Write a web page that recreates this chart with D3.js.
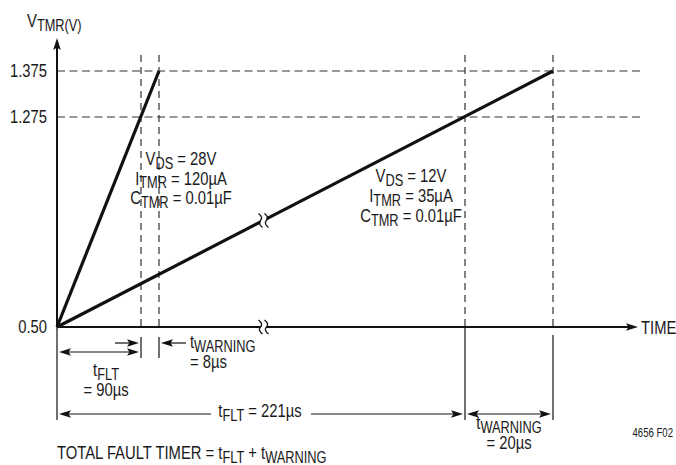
<!DOCTYPE html>
<html><head><meta charset="utf-8">
<script src="https://cdn.jsdelivr.net/npm/d3@7"></script>
<style>
body{margin:0;background:#fff}
text{font-family:"Liberation Sans",Arial,Helvetica,sans-serif;fill:#1a1a1a}
</style>
</head><body><svg id="c" width="676" height="465"></svg>
<script>
// ---- data ----
const timeMarks = [0, 90, 98, 221, 241];          // µs: start, tFLT(28V), +tWARNING, tFLT(12V), +tWARNING
const voltTicks = [0.50, 1.275, 1.375];
const voltTickLabels = ["0.50", "1.275", "1.375"];
const fastTimes = [0, 98];
const fastVolts = [0.50, 1.375];
const slowTimes = [0, 241];
const slowVolts = [0.50, 1.375];
const fastLabel = [["V","DS"," = 28V"],["I","TMR"," = 120µA"],["C","TMR"," = 0.01µF"]];
const slowLabel = [["V","DS"," = 12V"],["I","TMR"," = 35µA"],["C","TMR"," = 0.01µF"]];

// ---- scales (schematic, piecewise) ----
const x = d3.scaleLinear().domain([0, 90, 98, 221, 241, 280]).range([57, 141, 159, 465, 553, 638]);
const y = d3.scaleLinear().domain([0.5, 1.275, 1.375, 1.5]).range([327, 117, 71, 38]);
const svg = d3.select("#c");
const ink = "#111";
const x0 = x(0), y0 = y(0.5);
const SX = 0.8, FS = 18.5, SUB = 16, SDY = 3.5;

function arrowHead(g, tx, ty, dir, vertical) {
  const L = 12, W = 3.8;
  let pts;
  if (!vertical) pts = [[tx,ty],[tx - dir*L, ty - W],[tx - dir*L*0.8, ty],[tx - dir*L, ty + W]];
  else pts = [[tx,ty],[tx - W, ty - dir*L],[tx, ty - dir*L*0.8],[tx + W, ty - dir*L]];
  g.append("path").attr("d", "M" + pts.map(p => p.join(",")).join("L") + "Z").attr("fill", ink);
}
// condensed text: parts alternate normal / subscript
function richText(tx, ty, parts, anchor, size, subSize) {
  const t = svg.append("text").attr("transform", `translate(${tx},${ty}) scale(${SX},1)`)
    .attr("text-anchor", anchor || "start").attr("font-size", size || FS);
  parts.forEach((p, i) => {
    const s = t.append("tspan").text(p);
    if (i % 2 === 1) s.attr("font-size", subSize || SUB).attr("dy", SDY);
    else if (i > 0) s.attr("dy", -SDY);
  });
  return t;
}

// ---- dashed guides ----
const guides = svg.append("g").attr("stroke", "#333").attr("stroke-width", 1.2).attr("stroke-dasharray", "8,4.5").attr("fill", "none");
[1.275, 1.375].forEach(v => guides.append("line").attr("x1", x0).attr("x2", 641).attr("y1", y(v)).attr("y2", y(v)));
timeMarks.slice(1).forEach(t => guides.append("line").attr("x1", x(t)).attr("x2", x(t)).attr("y1", 55).attr("y2", y0)
  .attr("stroke-dasharray", "7,5"));

// ---- axes ----
const ax = svg.append("g");
ax.append("line").attr("x1", x0).attr("x2", x0).attr("y1", y0).attr("y2", y(1.5) + 8).attr("stroke", ink).attr("stroke-width", 2);
arrowHead(ax, x0, y(1.5), -1, true);
ax.append("line").attr("x1", x0).attr("x2", x(280) - 8).attr("y1", y0).attr("y2", y0).attr("stroke", ink).attr("stroke-width", 2);
arrowHead(ax, x(280), y0, 1, false);
const yAxis = d3.axisLeft(y).tickValues(voltTicks).tickSize(0).tickPadding(10)
  .tickFormat(d => voltTickLabels[voltTicks.indexOf(d)]);
const yg = svg.append("g").attr("transform", `translate(${x0},0)`).call(yAxis);
yg.select(".domain").remove();
yg.selectAll("text").attr("font-size", FS).attr("font-family", null).attr("fill", "#1a1a1a")
  .attr("x", 0).attr("transform", `translate(-10,0) scale(${SX},1)`);
richText(641, y0 + 6.5, ["TIME"]);
richText(27, 27, ["V", "TMR(V)"]);

// ---- ramps ----
const line = d3.line().x(d => x(d[0])).y(d => y(d[1]));
svg.append("path").datum(d3.zip(fastTimes, fastVolts)).attr("d", line).attr("stroke", ink).attr("stroke-width", 3.2).attr("fill", "none");
svg.append("path").datum(d3.zip(slowTimes, slowVolts)).attr("d", line).attr("stroke", ink).attr("stroke-width", 3.2).attr("fill", "none");

// ---- break symbols ----
function breakMark(cx, cy) {
  svg.append("rect").attr("x", cx - 3).attr("y", cy - 4).attr("width", 6).attr("height", 8).attr("fill", "#fff");
  [-3, 3].forEach(dx => {
    const bx = cx + dx;
    svg.append("path").attr("d", `M${bx-2},${cy-7} Q${bx+3},${cy-3} ${bx},${cy} Q${bx-3},${cy+3} ${bx+2},${cy+7}`)
      .attr("stroke", ink).attr("stroke-width", 1.3).attr("fill", "none");
  });
}
const brkT = 140;
breakMark(x(brkT), y0);
breakMark(x(brkT), y0 + (x(brkT) - x0) / (x(241) - x0) * (y(1.375) - y0));

// ---- parameter labels ----
fastLabel.forEach((p, i) => richText(181, 165 + i * 19.5, p, "middle"));
slowLabel.forEach((p, i) => richText(411, 182 + i * 20, p, "middle"));

// ---- dimension lines ----
const dim = svg.append("g").attr("stroke", ink).attr("stroke-width", 1.2);
function vline(xx, ya, yb) { dim.append("line").attr("x1", xx).attr("x2", xx).attr("y1", ya).attr("y2", yb); }
vline(x0, y0, 420);
vline(x(90), 337, 358);
vline(x(98), 337, 358);
vline(x(221), y0, 420);
vline(x(241), 335, 420);
function hline(xa, xb, yy) { dim.append("line").attr("x1", xa).attr("x2", xb).attr("y1", yy).attr("y2", yy); }
// tFLT 90
hline(x0 + 8, x(90) - 8, 352); arrowHead(svg, x0 + 2, 352, -1); arrowHead(svg, x(90) - 2, 352, 1);
hline(115, x(90) - 8, 343); arrowHead(svg, x(90) - 2, 343, 1);
hline(x(98) + 8, 186, 343); arrowHead(svg, x(98) + 2, 343, -1);
// tFLT 221
hline(x0 + 8, 211, 414); hline(311, x(221) - 8, 414);
arrowHead(svg, x0 + 2, 414, -1); arrowHead(svg, x(221) - 2, 414, 1);
// tWARNING 20
hline(x(221) + 8, x(241) - 8, 414);
arrowHead(svg, x(221) + 2, 414, -1); arrowHead(svg, x(241) - 2, 414, 1);

// ---- dimension texts ----
richText(190, 348, ["t", "WARNING"]);
richText(190, 368, ["= 8µs"]);
richText(106, 376, ["t", "FLT"], "middle");
richText(106, 396, ["= 90µs"], "middle");
richText(260, 417, ["t", "FLT", " = 221µs"], "middle");
richText(509, 429, ["t", "WARNING"], "middle");
richText(509, 449, ["= 20µs"], "middle");
richText(57, 459, ["TOTAL FAULT TIMER = t", "FLT", " + t", "WARNING"]);
richText(673, 437, ["4656 F02"], "end", 12);
</script>
</body></html>
